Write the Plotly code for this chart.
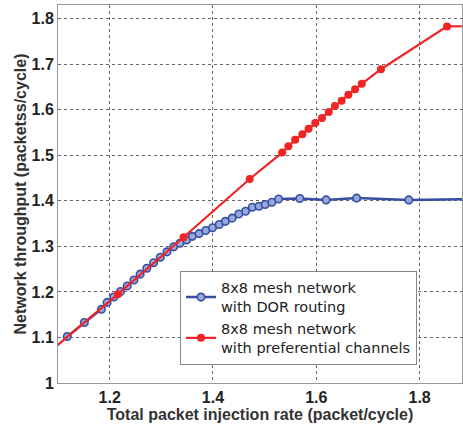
import plotly.graph_objects as go

# Data
dor_x = [1.118, 1.151, 1.184, 1.195, 1.208, 1.221, 1.234, 1.247, 1.259, 1.272,
         1.285, 1.298, 1.311, 1.324, 1.336, 1.349, 1.360, 1.373, 1.386, 1.399,
         1.412, 1.424, 1.437, 1.450, 1.463, 1.476, 1.489, 1.501, 1.514, 1.527,
         1.568, 1.619, 1.678, 1.779, 1.950]
dor_y = [1.102, 1.133, 1.162, 1.177, 1.189, 1.201, 1.213, 1.226, 1.239, 1.252,
         1.264, 1.276, 1.288, 1.299, 1.307, 1.314, 1.322, 1.328, 1.335, 1.341,
         1.348, 1.355, 1.362, 1.371, 1.377, 1.386, 1.388, 1.392, 1.397, 1.404,
         1.405, 1.402, 1.406, 1.402, 1.404]

pref_x = [1.050, 1.216, 1.343, 1.471, 1.534, 1.546, 1.559, 1.573, 1.585, 1.598,
          1.611, 1.624, 1.636, 1.649, 1.662, 1.675, 1.688, 1.725, 1.853, 1.950]
pref_y = [1.036, 1.195, 1.320, 1.448, 1.506, 1.520, 1.534, 1.546, 1.558, 1.571,
          1.582, 1.595, 1.608, 1.620, 1.633, 1.645, 1.657, 1.689, 1.783, 1.784]

series_names = ["8x8 mesh network<br>with DOR routing",
                "8x8 mesh network<br>with preferential channels"]

x_ticks = [1.2, 1.4, 1.6, 1.8]
y_ticks = [1.0, 1.1, 1.2, 1.3, 1.4, 1.5, 1.6, 1.7, 1.8]
y_tick_text = ["1", "1.1", "1.2", "1.3", "1.4", "1.5", "1.6", "1.7", "1.8"]

blue = "rgb(52,78,160)"
red = "rgb(240,36,36)"

fig = go.Figure()
fig.add_trace(go.Scatter(
    x=dor_x, y=dor_y, mode="lines+markers", name=series_names[0],
    line=dict(color=blue, width=2.5),
    marker=dict(symbol="circle", size=7.5, color="rgb(150,168,220)",
                line=dict(color=blue, width=1.6)),
))
fig.add_trace(go.Scatter(
    x=pref_x, y=pref_y, mode="lines+markers", name=series_names[1],
    line=dict(color=red, width=2.2),
    marker=dict(symbol="circle", size=8, color=red),
))

sans = "Liberation Sans, Arial, sans-serif"
tick_font = dict(family=sans, size=16, color="#222")
title_font = dict(family=sans, size=16, color="#333")

fig.update_layout(
    width=463, height=430,
    margin=dict(l=58, r=1, t=5, b=47),
    paper_bgcolor="white", plot_bgcolor="white",
    showlegend=True,
    legend=dict(
        x=0.302, y=0.297, xanchor="left", yanchor="top",
        bgcolor="white", bordercolor="#888", borderwidth=1,
        font=dict(family="DejaVu Sans, sans-serif", size=14.5, color="#222"),
        itemwidth=30, tracegroupgap=0,
    ),
    xaxis=dict(
        range=[1.1, 1.882], tickvals=x_ticks, ticktext=["<b>%g</b>" % v for v in x_ticks],
        tickfont=tick_font, automargin=False,
        showgrid=True, gridcolor="#666", griddash="dot", gridwidth=1,
        showline=True, linecolor="#999", linewidth=1, mirror=True,
        zeroline=False, ticks="",
        title=dict(text="<b>Total packet injection rate (packet/cycle)</b>",
                   font=title_font, standoff=2),
    ),
    yaxis=dict(
        range=[1.0, 1.83], tickvals=y_ticks, ticktext=["<b>%s</b>" % t for t in y_tick_text],
        tickfont=tick_font, automargin=False,
        showgrid=True, gridcolor="#666", griddash="dot", gridwidth=1,
        showline=True, linecolor="#999", linewidth=1, mirror=True,
        zeroline=False, ticks="",
        title=dict(text="<b>Network throughput (packetss/cycle)</b>",
                   font=title_font, standoff=0),
    ),
)

fig.write_html("out.html",
               config={"displayModeBar": False},
               post_script="document.body.style.margin='0';document.body.style.padding='0';")
